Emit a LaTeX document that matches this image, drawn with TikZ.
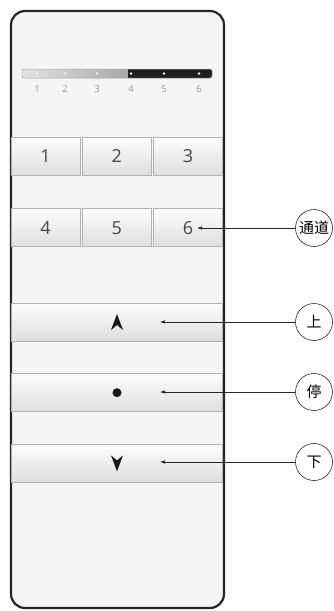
\documentclass[tikz,border=0pt]{standalone}
\usepackage{fontspec}
\setmainfont{Open Sans}
\newfontfamily\cjk{Noto Sans CJK SC}
\usepackage{tikz}
\usetikzlibrary{arrows.meta, positioning}

\begin{document}
\begin{tikzpicture}[
    x=1pt, y=-1pt,
    node distance=1.5pt,
    body/.style={draw=black!85, line width=2.2pt, fill=gray!8, rounded corners=14pt},
    numkey/.style={rectangle, draw=gray!60, line width=0.7pt, top color=gray!2, bottom color=gray!26, minimum width=69pt, minimum height=38pt, inner sep=0pt, text=black!72, font=\fontsize{18}{18}\selectfont},
    widekey/.style={numkey, minimum width=211pt, minimum height=38pt},
    ledlabel/.style={text=gray!80, font=\fontsize{9.5}{9.5}\selectfont, inner sep=0pt},
    callout/.style={circle, draw=black!85, line width=0.6pt, fill=white, minimum size=37pt, inner sep=0pt, font=\cjk\fontsize{15}{15}\selectfont},
    pointer/.style={-{Latex[length=5pt, width=3.5pt]}, line width=0.6pt, black!85}
  ]
    \useasboundingbox (0,0) rectangle (334,611);

    % Remote body
    \draw[body] (11,11) rectangle (224,608);

    % Channel indicator bar
    \shade[left color=gray!22, right color=gray!70, rounded corners=2pt] (22,69) rectangle (132,78);
    \fill[black!88, rounded corners=2pt] (128,69) rectangle (212,78);
    \fill[black!88] (128,69) rectangle (132,78);
    \draw[gray!70, line width=0.5pt, rounded corners=2pt] (22,69) rectangle (212,78);
    \foreach \n/\x in {1/37, 2/65, 3/97, 4/131, 5/164, 6/199} {
      \fill[white!90!gray] (\x,73.5) circle (1.3);
      \node[ledlabel] (led\n) at (\x,89) {\n};
    }

    % Channel keys
    \node[numkey] (k1) at (45.5,156) {1};
    \node[numkey, right=of k1] (k2) {2};
    \node[numkey, right=of k2] (k3) {3};
    \node[numkey, below=33pt of k1] (k4) {4};
    \node[numkey, right=of k4] (k5) {5};
    \node[numkey, right=of k5] (k6) {6};

    % Up, stop and down keys
    \node[widekey] (kup) at (117,322) {};
    \node[widekey, below=32pt of kup] (kstop) {};
    \node[widekey, below=32pt of kstop] (kdown) {};

    % Key symbols
    \fill[black!90] (kup.center) ++(0,-8) -- ++(6,16) -- ++(-6,-5) -- ++(-6,5) -- cycle;
    \fill[black!90] (kstop.center) circle (4.5);
    \fill[black!90] (kdown.center) ++(0,8) -- ++(6,-16) -- ++(-6,5) -- ++(-6,-5) -- cycle;

    % Callouts
    \node[callout] (channel) at (314,228) {通道};
    \node[callout] (up) at (314,322) {上};
    \node[callout] (stop) at (314,392) {停};
    \node[callout] (down) at (314,462) {下};

    \coordinate (tip6) at (197,228);
    \coordinate (tipup) at (160,322);
    \coordinate (tipstop) at (160,392);
    \coordinate (tipdown) at (160,462);

    % Arrows - callouts to keys
    \draw[pointer] (channel) -- (tip6);
    \draw[pointer] (up) -- (tipup);
    \draw[pointer] (stop) -- (tipstop);
    \draw[pointer] (down) -- (tipdown);

\end{tikzpicture}
\end{document}
